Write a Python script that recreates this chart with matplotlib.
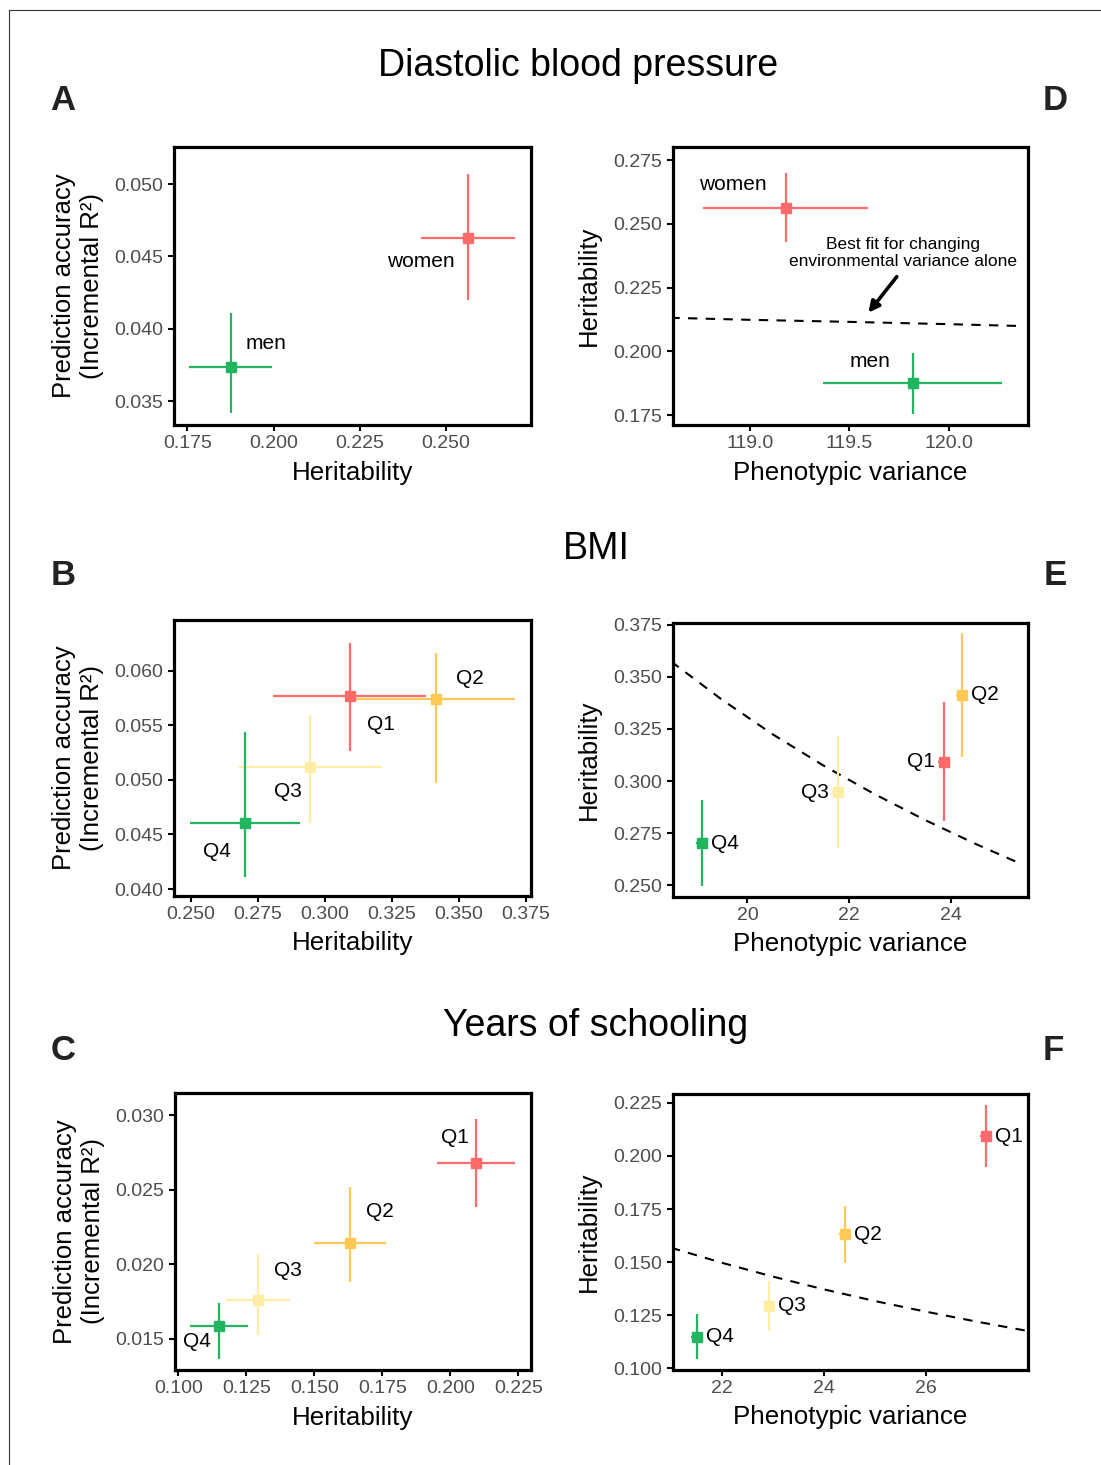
import matplotlib
matplotlib.use("Agg")
import matplotlib.pyplot as plt
from matplotlib.lines import Line2D

plt.rcParams["font.family"] = ["Liberation Sans", "DejaVu Sans"]

RED = "#FF6B6B"
GOLD = "#FFC857"
PALE = "#FFEDA5"
GREEN = "#22B560"

# diastolic blood pressure, split by sex
sexes = ["women", "men"]
sex_colors = [RED, GREEN]
dbp_h2 = [0.2564, 0.1875]
dbp_h2_err = [0.0137, 0.0120]
dbp_r2 = [0.04625, 0.03738]
dbp_r2_lo = [0.00426, 0.00318]
dbp_r2_hi = [0.00448, 0.00368]
dbp_vp = [119.18, 119.82]
dbp_vp_err = [0.415, 0.45]
dbp_fit_vp = [118.6, 119.0, 119.5, 120.0, 120.35]
dbp_fit_h2 = [0.2132, 0.2124, 0.2116, 0.2107, 0.2100]

# BMI and years of schooling, split by quartile
quartiles = ["Q1", "Q2", "Q3", "Q4"]
quart_colors = [RED, GOLD, PALE, GREEN]

bmi_h2 = [0.3093, 0.3414, 0.2947, 0.2702]
bmi_h2_err = [0.0285, 0.0297, 0.0268, 0.0206]
bmi_r2 = [0.05771, 0.05738, 0.05122, 0.04606]
bmi_r2_lo = [0.00506, 0.00763, 0.00521, 0.00499]
bmi_r2_hi = [0.00485, 0.00421, 0.00476, 0.00833]
bmi_vp = [23.87, 24.22, 21.79, 19.10]
bmi_vp_err = [0.12, 0.12, 0.12, 0.12]
bmi_fit_vp = [18.5, 19.5, 20.5, 21.5, 22.5, 23.5, 24.5, 25.35]
bmi_fit_h2 = [0.3573, 0.3390, 0.3224, 0.3074, 0.2938, 0.2813, 0.2698, 0.2607]

edu_h2 = [0.2094, 0.1631, 0.1294, 0.1149]
edu_h2_err = [0.0144, 0.0133, 0.0117, 0.0106]
edu_r2 = [0.0268, 0.02145, 0.01762, 0.01589]
edu_r2_lo = [0.00298, 0.00262, 0.00235, 0.00224]
edu_r2_hi = [0.00296, 0.00376, 0.00307, 0.00150]
edu_vp = [27.18, 24.41, 22.93, 21.51]
edu_vp_err = [0.12, 0.12, 0.12, 0.12]
edu_fit_vp = [21.0, 22.0, 23.0, 24.0, 25.0, 26.0, 27.0, 28.0]
edu_fit_h2 = [0.1568, 0.1497, 0.1432, 0.1372, 0.1317, 0.1267, 0.1220, 0.1176]

W, H = 1101, 1465
R2_LABEL = "Prediction accuracy\n(Incremental R²)"
LAB = 15


def add_axes(fig, left, top, right, bottom):
    ax = fig.add_axes([left / W, 1 - bottom / H, (right - left) / W, (bottom - top) / H])
    for s in ax.spines.values():
        s.set_linewidth(2.3)
        s.set_color("black")
    ax.tick_params(length=4, width=1.5, color="black", labelsize=14,
                   labelcolor="#4D4D4D", pad=3.5)
    return ax


def style(ax, xlim, ylim, xticks, yticks, xfmt, yfmt, xlabel, ylabel, ylab_x):
    ax.set_xlim(*xlim)
    ax.set_ylim(*ylim)
    ax.set_xticks(xticks)
    ax.set_xticklabels([xfmt.format(t) for t in xticks])
    ax.set_yticks(yticks)
    ax.set_yticklabels([yfmt.format(t) for t in yticks])
    ax.set_xlabel(xlabel, fontsize=18.7, va="center")
    ax.set_ylabel(ylabel, fontsize=18.5, va="center", linespacing=1.2)
    ax.xaxis.set_label_coords(0.5, -0.172)
    ax.yaxis.set_label_coords(ylab_x, 0.5)


def crosses(ax, x, y, xerr, ylo, yhi, colors):
    for i in range(len(x)):
        ax.errorbar(x[i], y[i], xerr=xerr[i], yerr=[[ylo[i]], [yhi[i]]], fmt="s",
                    color=colors[i], ms=7.5, elinewidth=1.6, capsize=0)


def main():
    fig = plt.figure(figsize=(W / 100, H / 100), dpi=100)

    # frame along top and left edges
    fig.add_artist(Line2D([9 / W, 1], [1 - 10 / H, 1 - 10 / H], color="#333333", lw=0.8))
    fig.add_artist(Line2D([9 / W, 9 / W], [0, 1 - 10 / H], color="#333333", lw=0.8))

    fig.text(578 / W, 1 - 66 / H, "Diastolic blood pressure", fontsize=27, ha="center", va="center")
    fig.text(596 / W, 1 - 549 / H, "BMI", fontsize=27, ha="center", va="center")
    fig.text(596 / W, 1 - 1026 / H, "Years of schooling", fontsize=27, ha="center", va="center")
    for letter, px, py in [("A", 63, 100), ("D", 1055, 100), ("B", 63, 575),
                           ("E", 1055, 575), ("C", 63, 1050), ("F", 1053, 1050)]:
        fig.text(px / W, 1 - py / H, letter, fontsize=25, fontweight="bold",
                 ha="center", va="center", color="#222222")

    # A: prediction accuracy vs heritability, DBP
    ax = add_axes(fig, 174, 147, 531, 425)
    crosses(ax, dbp_h2, dbp_r2, dbp_h2_err, dbp_r2_lo, dbp_r2_hi, sex_colors)
    style(ax, (0.1711, 0.2746), (0.03335, 0.05257),
          [0.175, 0.200, 0.225, 0.250], [0.035, 0.040, 0.045, 0.050],
          "{:.3f}", "{:.3f}", "Heritability", R2_LABEL, -0.27)
    ax.text(0.2428, 0.04463, "women", fontsize=LAB, ha="center", va="center")
    ax.text(0.1977, 0.0390, "men", fontsize=LAB, ha="center", va="center")

    # D: heritability vs phenotypic variance, DBP
    ax = add_axes(fig, 672.5, 147, 1028, 425)
    ax.plot(dbp_fit_vp, dbp_fit_h2, color="black", lw=1.5, dashes=(4.5, 4))
    crosses(ax, dbp_vp, dbp_h2, dbp_vp_err, dbp_h2_err, dbp_h2_err, sex_colors)
    style(ax, (118.611, 120.399), (0.1712, 0.2801),
          [119.0, 119.5, 120.0], [0.175, 0.200, 0.225, 0.250, 0.275],
          "{:.1f}", "{:.3f}", "Phenotypic variance", "Heritability", -0.235)
    ax.text(118.913, 0.2655, "women", fontsize=LAB, ha="center", va="center")
    ax.text(119.604, 0.1962, "men", fontsize=LAB, ha="center", va="center")
    ax.text(119.769, 0.2386, "Best fit for changing\nenvironmental variance alone",
            fontsize=12.5, ha="center", va="center", linespacing=1.2)
    ax.annotate("", xy=(119.596, 0.2152), xytext=(119.739, 0.2293),
                arrowprops=dict(arrowstyle="-|>", color="black", lw=2.6,
                                mutation_scale=16, shrinkA=0, shrinkB=0))

    # B: prediction accuracy vs heritability, BMI
    ax = add_axes(fig, 174, 620, 531, 896)
    crosses(ax, bmi_h2, bmi_r2, bmi_h2_err, bmi_r2_lo, bmi_r2_hi, quart_colors)
    style(ax, (0.2438, 0.377), (0.03936, 0.06464),
          [0.250, 0.275, 0.300, 0.325, 0.350, 0.375], [0.040, 0.045, 0.050, 0.055, 0.060],
          "{:.3f}", "{:.3f}", "Heritability", R2_LABEL, -0.27)
    for q, lx, ly in zip(quartiles, [0.3211, 0.3541, 0.2863, 0.2597],
                         [0.0551, 0.0593, 0.0489, 0.0434]):
        ax.text(lx, ly, q, fontsize=LAB, ha="center", va="center")

    # E: heritability vs phenotypic variance, BMI
    ax = add_axes(fig, 672.5, 623, 1028, 897)
    ax.plot(bmi_fit_vp, bmi_fit_h2, color="black", lw=1.5, dashes=(4.5, 4))
    crosses(ax, bmi_vp, bmi_h2, bmi_vp_err, bmi_h2_err, bmi_h2_err, quart_colors)
    style(ax, (18.525, 25.526), (0.2444, 0.3758),
          [20, 22, 24], [0.250, 0.275, 0.300, 0.325, 0.350, 0.375],
          "{:d}", "{:.3f}", "Phenotypic variance", "Heritability", -0.235)
    for q, x, y, side in zip(quartiles, bmi_vp, bmi_h2, [-1, 1, -1, 1]):
        ax.annotate(q, (x, y), xytext=(6.5 * side, 0), textcoords="offset points",
                    fontsize=LAB, ha="left" if side > 0 else "right", va="center")

    # C: prediction accuracy vs heritability, years of schooling
    ax = add_axes(fig, 175, 1093, 531, 1370)
    crosses(ax, edu_h2, edu_r2, edu_h2_err, edu_r2_lo, edu_r2_hi, quart_colors)
    style(ax, (0.0988, 0.2297), (0.01292, 0.0315),
          [0.100, 0.125, 0.150, 0.175, 0.200, 0.225], [0.015, 0.020, 0.025, 0.030],
          "{:.3f}", "{:.3f}", "Heritability", R2_LABEL, -0.27)
    for q, lx, ly in zip(quartiles, [0.2017, 0.1741, 0.1404, 0.1070],
                         [0.0285, 0.02354, 0.01962, 0.0148]):
        ax.text(lx, ly, q, fontsize=LAB, ha="center", va="center")

    # F: heritability vs phenotypic variance, years of schooling
    ax = add_axes(fig, 672.5, 1094, 1028, 1370)
    ax.plot(edu_fit_vp, edu_fit_h2, color="black", lw=1.5, dashes=(4.5, 4))
    crosses(ax, edu_vp, edu_h2, edu_vp_err, edu_h2_err, edu_h2_err, quart_colors)
    style(ax, (21.031, 28.01), (0.0992, 0.2292),
          [22, 24, 26], [0.100, 0.125, 0.150, 0.175, 0.200, 0.225],
          "{:d}", "{:.3f}", "Phenotypic variance", "Heritability", -0.235)
    for q, x, y in zip(quartiles, edu_vp, edu_h2):
        ax.annotate(q, (x, y), xytext=(6.5, 0), textcoords="offset points",
                    fontsize=LAB, ha="left", va="center")

    fig.savefig("out.png", dpi=100)


if __name__ == "__main__":
    main()
